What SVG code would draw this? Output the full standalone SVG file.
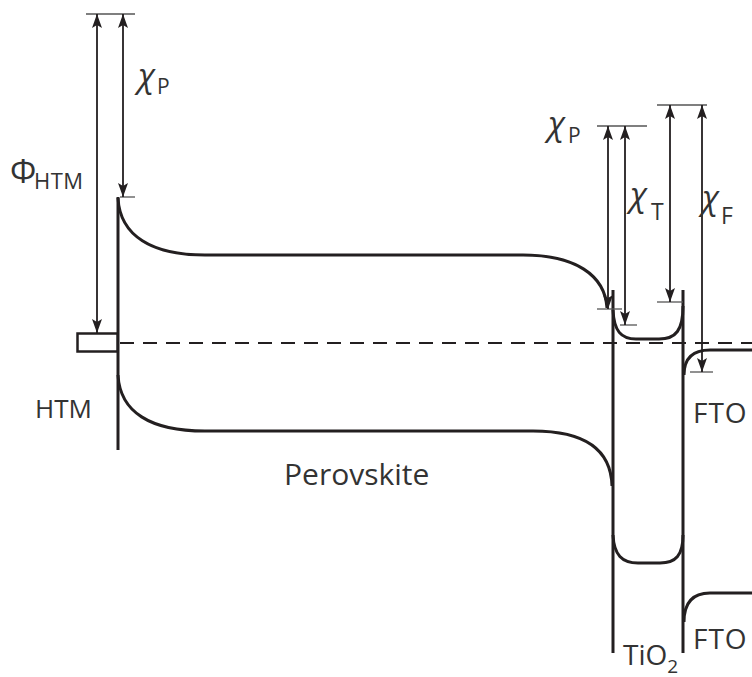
<svg xmlns="http://www.w3.org/2000/svg" width="752" height="677" viewBox="0 0 752 677">
  <style>
    .band { fill: none; stroke: #231f20; stroke-width: 3; }
    .wall { fill: none; stroke: #231f20; stroke-width: 3; }
    .arr { fill: none; stroke: #231f20; stroke-width: 1.8; marker-start: url(#ah); marker-end: url(#ah); }
    .tick { fill: none; stroke: #555; stroke-width: 1.3; }
    .fermi { fill: none; stroke: #231f20; stroke-width: 2; stroke-dasharray: 14 9; }
    text { font-family: "Open Sans", "Liberation Sans", sans-serif; fill: #333; }
    .chi { font-style: italic; font-size: 33px; }
    .sub { font-size: 21px; }
  </style>
  <defs>
    <marker id="ah" viewBox="0 0 14 10" refX="14" refY="5" markerWidth="14" markerHeight="10" markerUnits="userSpaceOnUse" orient="auto-start-reverse">
      <path d="M0,0 L14,5 L0,10 L3,5 z" fill="#231f20"/>
    </marker>
  </defs>

  <rect width="752" height="677" fill="#ffffff"/>

  <g id="fermi-level">
    <line class="fermi" x1="120" y1="343" x2="752" y2="343"/>
  </g>

  <g id="htm">
    <line class="wall" x1="118" y1="197" x2="118" y2="450"/>
    <rect x="77.5" y="333.5" width="40" height="18" fill="#fff" stroke="#231f20" stroke-width="2.5"/>
    <text x="35" y="418" font-size="26">HTM</text>
  </g>

  <g id="perovskite">
    <path class="band" d="M118,198 C120,236 152,255 205,255 L523,255 C575,255 605,275 607,308"/>
    <path class="band" d="M118,375 C120,412 150,431 205,431 L533,431 C585,431 611,450 612,486"/>
    <text x="284" y="485" font-size="30">Perovskite</text>
  </g>

  <g id="tio2">
    <line class="wall" x1="613" y1="290" x2="613" y2="653"/>
    <line class="wall" x1="683" y1="290" x2="683" y2="653"/>
    <path class="band" d="M613,310 C614,331 621,339 636,339 L659,339 C676,339 683,330 683,306"/>
    <path class="band" d="M613,535 C614,555 622,563 638,563 L660,563 C676,563 683,555 683,535"/>
    <text x="623" y="665" font-size="28">TiO<tspan font-size="19" dy="8">2</tspan></text>
  </g>

  <g id="fto">
    <path class="band" d="M684,375 C684,358 693,350 710,350 L752,350"/>
    <path class="band" d="M684,622 C684,603 692,593 710,593 L752,593"/>
    <text x="693" y="423" font-size="28" letter-spacing="1">FTO</text>
    <text x="693" y="649" font-size="28" letter-spacing="1">FTO</text>
  </g>

  <g id="connectors">
    <line class="tick" x1="86" y1="14" x2="135" y2="14"/>
    <line class="tick" x1="120" y1="197" x2="135" y2="197"/>
    <line class="arr" x1="97" y1="14" x2="97" y2="333"/>
    <line class="arr" x1="123" y1="14" x2="123" y2="197"/>

    <line class="tick" x1="597" y1="126" x2="647" y2="126"/>
    <line class="tick" x1="597" y1="309" x2="622" y2="309"/>
    <line class="tick" x1="620" y1="325" x2="637" y2="325"/>
    <line class="arr" x1="608" y1="126" x2="608" y2="309"/>
    <line class="arr" x1="625" y1="126" x2="625" y2="325"/>

    <line class="tick" x1="657" y1="105" x2="707" y2="105"/>
    <line class="tick" x1="657" y1="302" x2="683" y2="302"/>
    <line class="tick" x1="690" y1="372" x2="713" y2="372"/>
    <line class="arr" x1="670" y1="105" x2="670" y2="302"/>
    <line class="arr" x1="702" y1="105" x2="702" y2="372"/>
  </g>

  <g id="labels">
    <text x="10" y="183" font-size="33">Φ</text>
    <text x="34" y="189" font-size="22" letter-spacing="0.5">HTM</text>

    <text class="chi" x="138" y="87">χ</text>
    <text class="sub" x="157" y="94">P</text>

    <text class="chi" x="548" y="135">χ</text>
    <text class="sub" x="568" y="143">P</text>

    <text class="chi" x="630" y="206">χ</text>
    <text x="651" y="220" font-size="23">T</text>

    <text class="chi" x="702" y="209">χ</text>
    <text x="721" y="224" font-size="23">F</text>
  </g>
</svg>
